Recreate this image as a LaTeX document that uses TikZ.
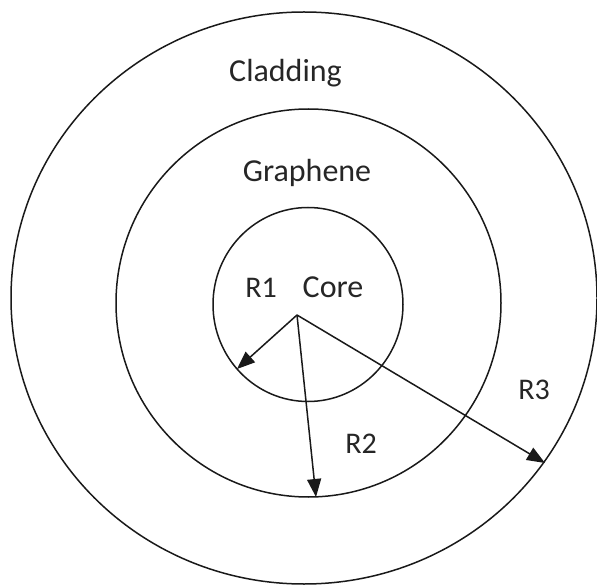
\documentclass[tikz,border=0pt]{standalone}
\usepackage{fontspec}
\setmainfont{Carlito}
\usetikzlibrary{arrows.meta}
\begin{document}
\begin{tikzpicture}[x=1pt,y=-1pt,
  ring/.style={draw=black!90, line width=1.5pt},
  radius arrow/.style={draw=black!90, line width=1.5pt, -{Triangle[length=18pt,width=14pt]}},
  lbl/.style={anchor=base, inner sep=0pt, font=\fontsize{32}{38}\selectfont, text=black!85},
  rlbl/.style={anchor=base, inner sep=0pt, font=\fontsize{30}{36}\selectfont, text=black!85}]
\useasboundingbox (0,0) rectangle (597,585);
% circles
\draw[ring] (304,298) ellipse [x radius=293pt, y radius=286pt];
\draw[ring] (308.5,303) ellipse [x radius=192.5pt, y radius=194pt];
\draw[ring] (308,304.5) ellipse [x radius=95pt, y radius=97pt];
% labels
\node[lbl] (clad) at (285.5,82) {Cladding};
\node[lbl] (graph) at (307,182) {Graphene};
\node[lbl] (core) at (333,298) {Core};
\node[rlbl] (r1) at (261,298) {R1};
\node[rlbl] (r2) at (361,453) {R2};
\node[rlbl] (r3) at (534,399) {R3};
% arrows
\coordinate (o) at (297,315);
\coordinate (t1) at (237,369);
\coordinate (t2) at (316,497);
\coordinate (t3) at (545,463);
\draw[radius arrow] (o) -- (t1);
\draw[radius arrow] (o) -- (t2);
\draw[radius arrow] (o) -- (t3);
\end{tikzpicture}
\end{document}
